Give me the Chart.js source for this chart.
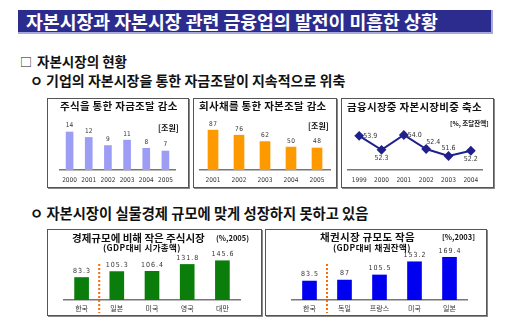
<!DOCTYPE html>
<html>
<head>
<meta charset="utf-8">
<script src="https://cdn.jsdelivr.net/npm/chart.js@4.4.1/dist/chart.umd.min.js"></script>
<style>
  body { margin: 0; width: 512px; height: 324px; background: #fff; position: relative; overflow: hidden;
         font-family: "Noto Sans CJK KR", sans-serif; color: #111; }
  .t { position: absolute; white-space: nowrap; font-weight: bold; line-height: 1; }
  .panel { position: absolute; box-sizing: border-box; border: 1px solid #555; box-shadow: 1px 1px 0 #888; background: #fff; }
  canvas { position: absolute; }
  #banner { position: absolute; left: 18px; top: 10px; width: 475px; height: 24px; box-sizing: border-box;
            background: #2c2c8e; border-right: 2px solid #a8a8dc; border-bottom: 2px solid #a8a8dc;
            color: #fff; font-weight: bold; font-size: 18.3px; line-height: 22px; padding-left: 8px; }
</style>
</head>
<body>
<div id="banner">자본시장과 자본시장 관련 금융업의 발전이 미흡한 상황</div>

<div class="t" style="left:20px;top:56px;font-size:12px;font-weight:normal;">□</div>
<div class="t" style="left:37px;top:55px;font-size:13.5px;">자본시장의 현황</div>
<div class="t" style="left:30px;top:73px;font-size:14px;">ㅇ 기업의 자본시장을 통한 자금조달이 지속적으로 위축</div>
<div class="t" style="left:30px;top:206px;font-size:14.3px;">ㅇ 자본시장이 실물경제 규모에 맞게 성장하지 못하고 있음</div>

<div class="panel" style="left:47px;top:98px;width:142px;height:90px;"></div>
<div class="panel" style="left:193px;top:98px;width:144px;height:90px;"></div>
<div class="panel" style="left:341px;top:98px;width:153px;height:90px;"></div>
<div class="panel" style="left:47px;top:229px;width:215px;height:87px;"></div>
<div class="panel" style="left:265px;top:229px;width:222px;height:87px;"></div>

<canvas id="c1" width="142" height="90" style="left:47px;top:98px;"></canvas>
<canvas id="c2" width="144" height="90" style="left:193px;top:98px;"></canvas>
<canvas id="c3" width="153" height="90" style="left:341px;top:98px;"></canvas>
<canvas id="c4" width="215" height="87" style="left:47px;top:229px;"></canvas>
<canvas id="c5" width="222" height="87" style="left:265px;top:229px;"></canvas>

<div class="t" style="left:60px;top:101px;font-size:10.5px;letter-spacing:0.3px;">주식을 통한 자금조달 감소</div>
<div class="t" style="left:158px;top:124px;font-size:8px;">[조원]</div>
<div class="t" style="left:199px;top:101px;font-size:10.5px;letter-spacing:0.3px;">회사채를 통한 자본조달 감소</div>
<div class="t" style="left:308px;top:122px;font-size:8px;">[조원]</div>
<div class="t" style="left:347px;top:102px;font-size:10.5px;letter-spacing:0.3px;">금융시장중 자본시장비중 축소</div>
<div class="t" style="left:450px;top:120px;font-size:6.5px;">[%, 조달잔액]</div>

<div class="t" style="left:72px;top:233px;font-size:10.5px;">경제규모에 비해 작은 주식시장</div>
<div class="t" style="left:216px;top:234px;font-size:7.5px;">(%,2005)</div>
<div class="t" style="left:103px;top:243px;font-size:8.5px;letter-spacing:0.4px;">(GDP대비 시가총액)</div>
<div class="t" style="left:320px;top:232px;font-size:10.5px;letter-spacing:0.3px;">채권시장 규모도 작음</div>
<div class="t" style="left:442px;top:233px;font-size:7.5px;">[%,2003]</div>
<div class="t" style="left:333px;top:243px;font-size:8.5px;letter-spacing:0.4px;">(GDP대비 채권잔액)</div>

<script>
// data
var stockYears = ['2000', '2001', '2002', '2003', '2004', '2005'];
var stockFunding = [14, 12, 9, 11, 8, 7];

var bondYears = ['2001', '2002', '2003', '2004', '2005'];
var bondFunding = [87, 76, 62, 50, 48];

var shareYears = ['1999', '2000', '2001', '2002', '2003', '2004'];
var capitalShare = [53.9, 52.3, 54.0, 52.4, 51.6, 52.2];

var capCountries = ['한국', '일본', '미국', '영국', '대만'];
var marketCap = [83.3, 105.3, 106.4, 131.8, 145.6];

var bondCountries = ['한국', '독일', '프랑스', '미국', '일본'];
var bondBalance = [83.5, 87, 105.5, 153.2, 169.4];

var narrow = '"Liberation Sans Narrow", "DejaVu Sans Condensed", "Arial Narrow", sans-serif';
var kr = '"Noto Sans CJK KR", sans-serif';

function barLabels(size, spacing) {
    return {
        id: 'barLabels',
        afterDatasetsDraw: function(chart) {
            var ctx = chart.ctx;
            var meta = chart.getDatasetMeta(0);
            var vals = chart.data.datasets[0].data;
            ctx.save();
            ctx.font = size + 'px ' + narrow;
            ctx.fillStyle = '#333';
            ctx.textAlign = 'center';
            ctx.textBaseline = 'bottom';
            ctx.letterSpacing = spacing + 'px';
            meta.data.forEach(function(bar, i) {
                ctx.fillText(String(vals[i]), bar.x + spacing / 2, bar.y - 3);
            });
            ctx.restore();
        }
    };
}

// dotted orange line between Korea and the others
var separator = {
    id: 'separator',
    afterDatasetsDraw: function(chart) {
        var ctx = chart.ctx;
        var x = chart.scales.x.getPixelForValue(0.5);
        var b = chart.chartArea.bottom;
        ctx.save();
        ctx.strokeStyle = '#ff6a00';
        ctx.lineWidth = 2;
        ctx.setLineDash([2, 2]);
        ctx.beginPath();
        ctx.moveTo(x, b - 36);
        ctx.lineTo(x, b + 13);
        ctx.stroke();
        ctx.restore();
    }
};

function xAxis(fontSize, family, pad, h) {
    return {
        offset: true,
        grid: { display: false, drawTicks: false },
        border: { display: true, color: '#777', width: 1.5 },
        ticks: {
            autoSkip: false, maxRotation: 0, padding: pad, color: '#333',
            font: { size: fontSize, family: family }
        },
        afterFit: function(s) { s.height = h; }
    };
}

function makeBar(id, labels, vals, color, barW, yMin, yMax, pad, xa, extra) {
    var plugins = [barLabels(extra.labelSize, extra.labelSpacing)];
    if (extra.separator) plugins.push(separator);
    return new Chart(document.getElementById(id), {
        type: 'bar',
        data: {
            labels: labels,
            datasets: [{ data: vals, backgroundColor: color, barThickness: barW }]
        },
        options: {
            responsive: false,
            animation: false,
            layout: { padding: pad },
            plugins: { legend: { display: false }, tooltip: { enabled: false } },
            scales: {
                x: xa,
                y: { display: false, min: yMin, max: yMax }
            }
        },
        plugins: plugins
    });
}

makeBar('c1', stockYears, stockFunding, '#9d9df5', 7, 0, 19.16,
    { left: 13, right: 14, top: 20, bottom: 0 },
    xAxis(6.5, narrow, 6, 18), { labelSize: 6.5, labelSpacing: 0 });

makeBar('c2', bondYears, bondFunding, '#ff9900', 10, 0, 113.5,
    { left: 7, right: 7, top: 20, bottom: 0 },
    xAxis(6.5, narrow, 6, 18), { labelSize: 6.5, labelSpacing: 0.5 });

makeBar('c4', capCountries, marketCap, '#0a7d0a', 14, 0, 152,
    { left: 17, right: 22, top: 30, bottom: 0 },
    xAxis(7, kr, 4, 16), { labelSize: 7, labelSpacing: 1, separator: true });

makeBar('c5', bondCountries, bondBalance, '#0000f0', 14, 15, 199.4,
    { left: 27, right: 20, top: 20, bottom: 0 },
    xAxis(7, kr, 4, 16), { labelSize: 7, labelSpacing: 1, separator: true });

// line chart: where each value label sits around its point
var shareLabelPos = ['right', 'below', 'right', 'aboveRight', 'above', 'below'];

var lineLabels = {
    id: 'lineLabels',
    afterDatasetsDraw: function(chart) {
        var ctx = chart.ctx;
        var meta = chart.getDatasetMeta(0);
        var vals = chart.data.datasets[0].data;
        ctx.save();
        ctx.font = '7px ' + narrow;
        ctx.fillStyle = '#333';
        ctx.textBaseline = 'middle';
        meta.data.forEach(function(pt, i) {
            var txt = vals[i].toFixed(1);
            var pos = shareLabelPos[i];
            if (pos == 'right') { ctx.textAlign = 'left'; ctx.fillText(txt, pt.x + 4, pt.y); }
            else if (pos == 'below') { ctx.textAlign = 'center'; ctx.fillText(txt, pt.x, pt.y + 8); }
            else if (pos == 'above') { ctx.textAlign = 'center'; ctx.fillText(txt, pt.x, pt.y - 8); }
            else { ctx.textAlign = 'left'; ctx.fillText(txt, pt.x, pt.y - 7); }
        });
        ctx.restore();
    }
};

new Chart(document.getElementById('c3'), {
    type: 'line',
    data: {
        labels: shareYears,
        datasets: [{
            data: capitalShare,
            borderColor: '#20208c',
            backgroundColor: '#20208c',
            borderWidth: 2,
            pointStyle: 'rectRot',
            pointRadius: 3.5,
            tension: 0
        }]
    },
    options: {
        responsive: false,
        animation: false,
        layout: { padding: { left: 7, right: 12, top: 20, bottom: 0 } },
        plugins: { legend: { display: false }, tooltip: { enabled: false } },
        scales: {
            x: xAxis(6.5, narrow, 6, 18),
            y: { display: false, min: 50, max: 55.94 }
        }
    },
    plugins: [lineLabels]
});
</script>
</body>
</html>
